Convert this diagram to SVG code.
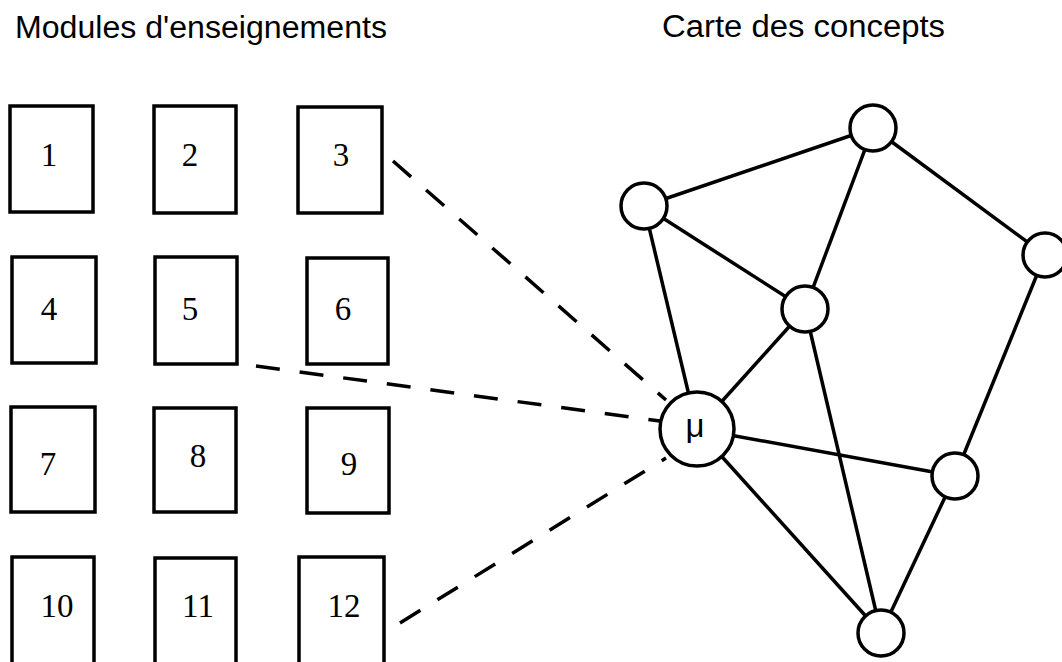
<svg xmlns="http://www.w3.org/2000/svg" width="1062" height="662" viewBox="0 0 1062 662">
  <style>
    .title { font-family: "Liberation Sans", Arial, sans-serif; font-size: 31px; fill: #000; }
    .box rect { fill: #fff; stroke: #000; stroke-width: 3.5; }
    .box text { font-family: "Liberation Serif", "Times New Roman", serif; font-size: 33px; fill: #000; text-anchor: middle; }
    .edge { stroke: #000; stroke-width: 3.5; fill: none; }
    .dash { stroke: #000; stroke-width: 3.5; fill: none; stroke-dasharray: 24 20; }
    .concept circle { fill: #fff; stroke: #000; stroke-width: 3.5; }
    .concept text { font-family: "Liberation Sans", Arial, sans-serif; font-size: 33px; fill: #000; text-anchor: middle; }
  </style>
  <rect x="0" y="0" width="1062" height="662" fill="#fff"/>

  <!-- headings -->
  <text class="title" x="15" y="38" textLength="372" lengthAdjust="spacingAndGlyphs">Modules d'enseignements</text>
  <text class="title" x="662" y="37" textLength="283" lengthAdjust="spacingAndGlyphs">Carte des concepts</text>

  <!-- teaching modules -->
  <g id="module-1" class="box"><rect x="10" y="106" width="83" height="106"/><text x="49" y="166">1</text></g>
  <g id="module-2" class="box"><rect x="154" y="106" width="82" height="107"/><text x="190" y="166">2</text></g>
  <g id="module-3" class="box"><rect x="298" y="107" width="84" height="106"/><text x="341" y="166">3</text></g>
  <g id="module-4" class="box"><rect x="12" y="257" width="84" height="106"/><text x="49" y="320">4</text></g>
  <g id="module-5" class="box"><rect x="155" y="257" width="82" height="107"/><text x="190" y="320">5</text></g>
  <g id="module-6" class="box"><rect x="307" y="258" width="81" height="106"/><text x="343" y="320">6</text></g>
  <g id="module-7" class="box"><rect x="11" y="407" width="84" height="105"/><text x="48" y="475">7</text></g>
  <g id="module-8" class="box"><rect x="154" y="408" width="82" height="104"/><text x="198" y="467">8</text></g>
  <g id="module-9" class="box"><rect x="307" y="408" width="82" height="105"/><text x="349" y="475">9</text></g>
  <g id="module-10" class="box"><rect x="12" y="557" width="82" height="112"/><text x="57" y="617">10</text></g>
  <g id="module-11" class="box"><rect x="155" y="558" width="81" height="112"/><text x="198" y="617">11</text></g>
  <g id="module-12" class="box"><rect x="299" y="557" width="85" height="112"/><text x="344" y="617">12</text></g>

  <!-- connectors -->
  <g id="connectors">
    <!-- module links to concept mu -->
    <line class="dash" x1="393" y1="161" x2="666" y2="400"/>
    <line class="dash" x1="256" y1="366" x2="660" y2="421"/>
    <line class="dash" x1="400" y1="623" x2="666" y2="458"/>
    <!-- concept map edges -->
    <line class="edge" x1="644" y1="206" x2="873" y2="128"/>
    <line class="edge" x1="873" y1="128" x2="1045" y2="255"/>
    <line class="edge" x1="873" y1="128" x2="805" y2="309"/>
    <line class="edge" x1="644" y1="206" x2="805" y2="309"/>
    <line class="edge" x1="644" y1="206" x2="697" y2="429"/>
    <line class="edge" x1="805" y1="309" x2="697" y2="429"/>
    <line class="edge" x1="805" y1="309" x2="881" y2="633"/>
    <line class="edge" x1="1045" y1="255" x2="955" y2="476"/>
    <line class="edge" x1="697" y1="429" x2="955" y2="476"/>
    <line class="edge" x1="697" y1="429" x2="881" y2="633"/>
    <line class="edge" x1="955" y1="476" x2="881" y2="633"/>
  </g>

  <!-- concepts -->
  <g id="concept-a" class="concept"><circle cx="644" cy="206" r="23"/></g>
  <g id="concept-b" class="concept"><circle cx="873" cy="128" r="23"/></g>
  <g id="concept-c" class="concept"><circle cx="1045" cy="255" r="22"/></g>
  <g id="concept-d" class="concept"><circle cx="805" cy="309" r="23"/></g>
  <g id="concept-mu" class="concept"><circle cx="697" cy="429" r="37"/><text x="695" y="437">μ</text></g>
  <g id="concept-e" class="concept"><circle cx="955" cy="476" r="23"/></g>
  <g id="concept-f" class="concept"><circle cx="881" cy="633" r="23"/></g>
</svg>
